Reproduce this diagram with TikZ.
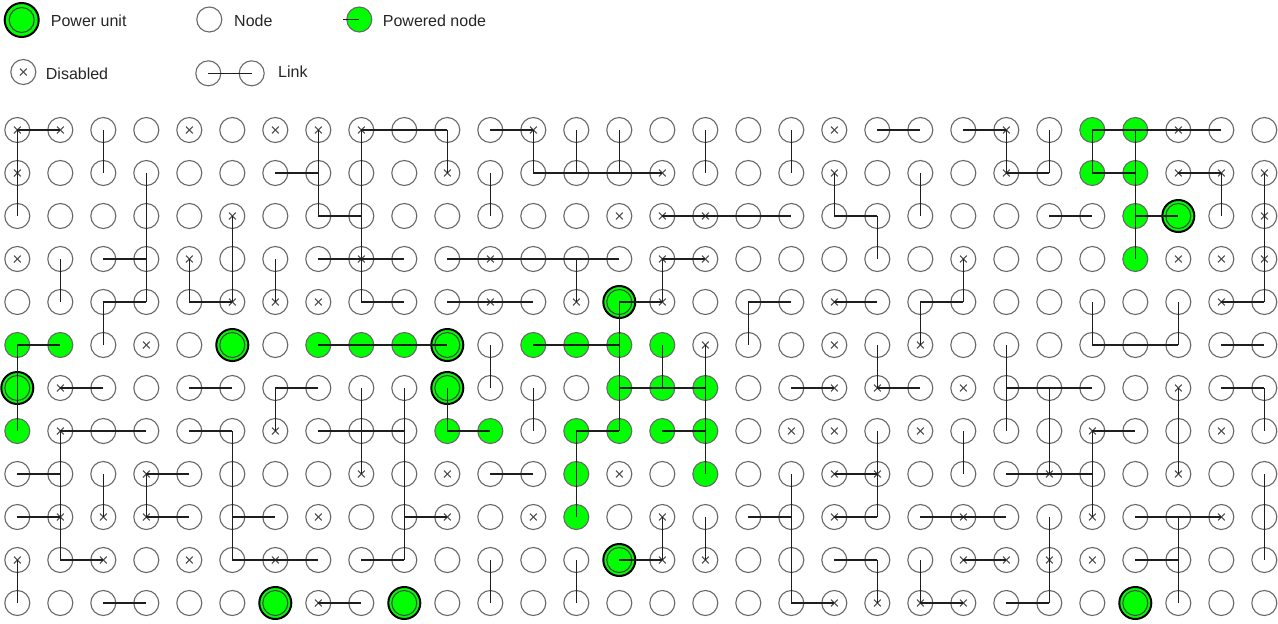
\documentclass[tikz,border=0pt]{standalone}
\usepackage{fontspec}
\setmainfont{Liberation Sans}
\definecolor{pgreen}{RGB}{0,255,0}
\definecolor{ring}{RGB}{105,105,105}
\definecolor{linkc}{RGB}{30,30,30}
\begin{document}
\begin{tikzpicture}[x=1pt,y=-1pt,
  base/.style={circle,draw=ring,line width=1.1pt,minimum size=25pt,inner sep=0pt},
  xmark/.style={draw=ring!70!black,line width=1.1pt},
  typen/.style={base},
  typex/.style={base,path picture={
     \draw[xmark] ([shift={(-3.4pt,-3.4pt)}]path picture bounding box.center) -- ([shift={(3.4pt,3.4pt)}]path picture bounding box.center);
     \draw[xmark] ([shift={(-3.4pt,3.4pt)}]path picture bounding box.center) -- ([shift={(3.4pt,-3.4pt)}]path picture bounding box.center);}},
  typeg/.style={base,fill=pgreen},
  typep/.style={circle,draw=black,line width=2pt,fill=pgreen,minimum size=32pt,inner sep=0pt,
     path picture={\draw[ring!70!black,line width=1.1pt] (path picture bounding box.center) circle (12.5pt);}},
  link/.style={draw=linkc,line width=1.2pt},
  legtext/.style={anchor=base west,inner sep=0pt,font=\fontsize{16}{19}\selectfont,text=black!85}
]
\useasboundingbox (0,0) rectangle (1278,624);
\fill[white] (0,0) rectangle (1278,624);

% legend
\node[typep,minimum size=34pt] (lp) at (21.7,20) {};
\node[legtext] (lpt) at (50.7,26.7) {Power unit};
\node[typen] (ln) at (209.3,19.5) {};
\node[legtext] (lnt) at (234,26) {Node};
\node[typeg] (lg) at (359.3,19.5) {};
\coordinate (lgs) at (343.3,19.5);
\draw[link] (lgs) -- (lg.center);
\node[legtext] (lgt) at (382.7,26) {Powered node};
\node[typex] (lx) at (23.3,72) {};
\node[legtext] (lxt) at (45.7,79) {Disabled};
\node[typen] (la) at (208.3,73.3) {};
\node[typen] (lb) at (251.7,73.3) {};
\draw[link] (la.center) -- (lb.center);
\node[legtext] (lat) at (278,77.5) {Link};

% grid nodes
\foreach \row [count=\r from 0] in {
 {x,x,n,n,x,n,x,x,x,n,n,n,x,n,n,n,n,n,n,x,n,n,n,x,n,g,g,x,n,n},
 {x,n,n,n,n,n,n,n,n,n,x,n,n,n,n,x,n,n,n,x,n,n,n,x,n,g,g,x,x,x},
 {n,n,n,n,n,x,n,n,n,n,n,n,n,n,x,x,x,n,n,n,n,n,n,n,n,n,g,p,n,x},
 {x,n,n,n,x,n,n,n,x,n,n,x,n,n,n,x,x,n,n,n,n,n,x,n,n,n,g,x,x,x},
 {n,n,n,n,n,x,x,x,n,n,n,x,n,x,p,x,n,n,n,x,n,n,n,n,n,n,n,n,x,n},
 {g,g,n,x,n,p,n,g,g,g,p,n,g,g,g,g,x,n,n,x,n,x,n,n,n,n,n,n,n,n},
 {p,x,n,n,n,n,n,n,n,n,p,n,n,n,g,g,g,n,n,x,x,n,x,n,n,n,n,x,n,n},
 {g,x,n,n,n,n,x,n,n,n,g,g,n,g,g,g,g,n,x,x,n,x,n,n,n,x,n,n,x,n},
 {n,n,n,x,n,n,n,n,x,n,x,n,n,g,x,n,g,n,n,x,x,n,n,n,x,n,n,x,n,n},
 {n,x,x,x,n,n,n,x,n,n,x,n,x,g,n,x,n,n,n,x,n,n,x,n,n,x,n,n,x,n},
 {x,n,x,n,x,n,x,n,n,n,n,n,n,n,p,x,x,n,n,n,n,n,x,x,x,x,n,n,n,n},
 {n,n,n,n,n,n,p,x,n,p,n,n,n,n,n,n,n,n,n,x,x,x,x,n,n,n,p,n,n,n}} {
  \foreach \t [count=\c from 0] in \row {
    \node[type\t] (n\c-\r) at ({17.3+43*\c},{130+43*\r}) {};
  }
}

% horizontal links, per row: starting column
\foreach \cs [count=\r from 0] in {
 {0,8,9,11,20,22,25,26,27},
 {6,12,13,14,23,25,27},
 {7,15,16,17,19,24,26},
 {2,7,8,10,11,12,13,15},
 {2,4,8,10,11,14,17,19,21,28},
 {0,7,8,9,12,13,25,26,28},
 {1,4,6,14,15,18,20,23,24,28},
 {1,2,4,7,8,10,13,15,25},
 {0,3,11,19,23,24},
 {0,3,5,9,17,19,21,22,26,27},
 {1,5,6,8,14,19,22,26},
 {2,7,18,21,23}} {
  \foreach \c in \cs {
    \pgfmathtruncatemacro\cn{\c+1}
    \draw[link] (n\c-\r.center) -- (n\cn-\r.center);
  }
}

% vertical links, per column: starting row
\foreach \rs [count=\c from 0] in {
 {0,1,5,6,10},{3,7,8,9},{0,4,8},{1,2,3,8},{3},{2,3,7,8,9},{3,6},{0,1},
 {0,1,2,3,6,7},{6,7,8,9},{0,6},{1,5,10},{0,6},{0,3,7,8,10},{0,4,5,6},
 {3,5,9},{0,5,6,7,9},{4},{0,8,9,10},{1},{2,5,7,8,10},{1,4,10},{3,7},
 {0,5,6},{0,6,7,9,10},{0,4,7,8},{0,1,2},{4,6,7,9,10},{1},{1,2,3,6,8,9}} {
  \foreach \r in \rs {
    \pgfmathtruncatemacro\rn{\r+1}
    \draw[link] (n\c-\r.center) -- (n\c-\rn.center);
  }
}
\end{tikzpicture}
\end{document}
